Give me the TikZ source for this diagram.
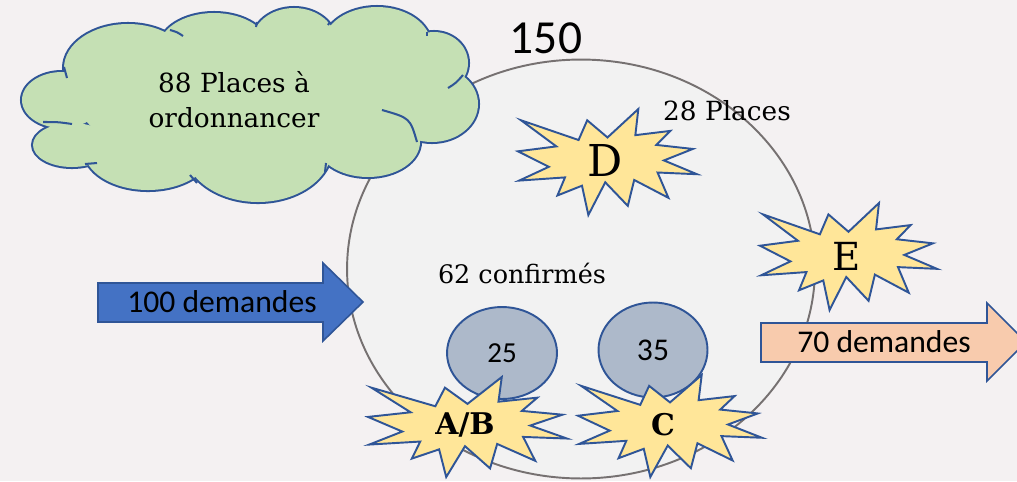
\documentclass[tikz,border=0pt]{standalone}
\usepackage{fontspec}
\setmainfont{DejaVu Serif}
\newfontfamily\calibfont{Carlito}
\usetikzlibrary{shapes.geometric}

\definecolor{paper}{HTML}{F4F1F2}
\definecolor{ringfill}{HTML}{F2F2F2}
\definecolor{ringline}{HTML}{767171}
\definecolor{edgeblue}{HTML}{2F5597}
\definecolor{cloudfill}{HTML}{C5E0B4}
\definecolor{blastfill}{HTML}{FFE699}
\definecolor{discfill}{HTML}{ADB9CA}
\definecolor{infill}{HTML}{4472C4}
\definecolor{outfill}{HTML}{F8CBAD}

\begin{document}
\begin{tikzpicture}[x=0.02cm, y=-0.02cm,
    ring/.style={draw=ringline, line width=1.1pt, fill=ringfill, ellipse, inner sep=0pt, minimum width=9.36cm, minimum height=8.38cm},
    disc/.style={draw=edgeblue, line width=1.1pt, fill=discfill, ellipse, inner sep=0pt},
    blast/.style={draw=edgeblue, line width=1.1pt, fill=blastfill, line join=miter},
    puffedge/.style={draw=edgeblue, line width=2.3pt},
    crease/.style={draw=edgeblue, line width=1.15pt},
    arrowbox/.style={draw=edgeblue, line width=0.9pt, line join=miter},
    serif/.style={font=\fontsize{15}{20}\selectfont, align=center},
    calib/.style={font=\calibfont\fontsize{18}{22}\selectfont}]
    \clip (0,0) rectangle (1017,481);
    \fill[paper] (0,0) rectangle (1017,481);

    % the 150 places
    \node[ring] (ring) at (581,269) {};
    \node[font=\calibfont\fontsize{27}{30}\selectfont] (total) at (546,38) {150};

    \node[disc, minimum width=2.2cm, minimum height=1.84cm, font=\calibfont\fontsize{16.5}{19}\selectfont] (d25) at (502,353) {\raisebox{-3pt}{25}};
    \node[disc, minimum width=2.18cm, minimum height=1.9cm, font=\calibfont\fontsize{18}{20}\selectfont] (d35) at (653,350) {35};

    % explosions: x/y/xscale/yscale
    \foreach \x/\y/\sx/\sy in {518/109/0.8287/0.4907, 760/203/0.8194/0.4954, 368/377/0.9213/0.4630, 578/375/0.8519/0.4722}{
        \begin{scope}[shift={(\x,\y)}, xscale=\sx, yscale=\sy]
        \filldraw[blast] (108,58) -- (145.2,0) -- (141.6,53.3) -- (183.8,44.6) -- (167,73.2) -- (211,81.4) -- (176.1,104.8) -- (216,132.9) -- (168.4,129.4) -- (181.5,181) -- (140.2,144.6) -- (132.5,197.4) -- (105.3,149.4) -- (84.9,216) -- (77.2,156.3) -- (47.6,176.2) -- (56.7,139.4) -- (1.4,145.9) -- (37.2,117.8) -- (0,86.2) -- (46.3,76.2) -- (3.7,23) -- (73.1,63.2) -- (83.5,23) -- cycle;
        \end{scope}
    }
    \node[font=\fontsize{25}{28}\selectfont] (bd) at (605,160) {D};
    \node[font=\fontsize{22}{26}\selectfont] (be) at (847,256) {E};
    \node[font=\bfseries\fontsize{17}{20}\selectfont] (bab) at (465,425) {A/B};
    \node[font=\bfseries\fontsize{17}{20}\selectfont] (bc) at (663,425) {C};

    % cloud = union of puffs
    \def\puffs{128/68/64/44, 214/48/55/35, 294/42/42/34, 377/45/54/38, 434/63/34/31, 432/104/46/38, 368/142/52/35, 258/148/74/54, 148/150/64/40, 72/145/39/22, 62/100/40/28}
    \foreach \cx/\cy/\rx/\ry in \puffs
        \draw[puffedge] (\cx,\cy) ellipse [x radius=\rx, y radius=\ry];
    \foreach \cx/\cy/\rx/\ry in \puffs
        \fill[cloudfill] (\cx,\cy) ellipse [x radius=\rx, y radius=\ry];
    \fill[cloudfill] (250,105) ellipse [x radius=170, y radius=60];
    % creases inside the cloud
    \draw[crease] (64,67) .. controls (65,72) .. (67,78);
    \draw[crease] (170,30) .. controls (177,32) .. (183,36);
    \draw[crease] (257,22) -- (256,27);
    \draw[crease] (330,22) -- (328,25);
    \draw[crease] (427,32) -- (427,36);
    \draw[crease] (463,75) .. controls (456,83) .. (448,88);
    \draw[crease] (382,110) .. controls (410,118) .. (417,142);
    \draw[crease] (325,172) .. controls (325,167) .. (326,163);
    \draw[crease] (190,175) .. controls (193,179) .. (197,183);
    \draw[crease] (85,164) -- (97,163);
    \draw[crease] (43,122) .. controls (58,122) .. (72,124);
    \node[serif] (waiting) at (234,100) {88 Places à\\ordonnancer};

    % flows in and out
    \filldraw[arrowbox, fill=infill] (98,283) -- (323,283) -- (323,263) -- (363,302) -- (323,341) -- (323,322) -- (98,322) -- cycle;
    \node[calib] (inflow) at (222,302) {100 demandes};
    \filldraw[arrowbox, fill=outfill] (761,323) -- (987,323) -- (987,303) -- (1026,342) -- (987,381) -- (987,362) -- (761,362) -- cycle;
    \node[calib] (outflow) at (884,342) {70 demandes};

    \node[serif] (free) at (727,111) {28 Places};
    \node[serif, font=\fontsize{14.5}{18}\selectfont] (confirmed) at (522,273) {62 confirmés};
\end{tikzpicture}
\end{document}
